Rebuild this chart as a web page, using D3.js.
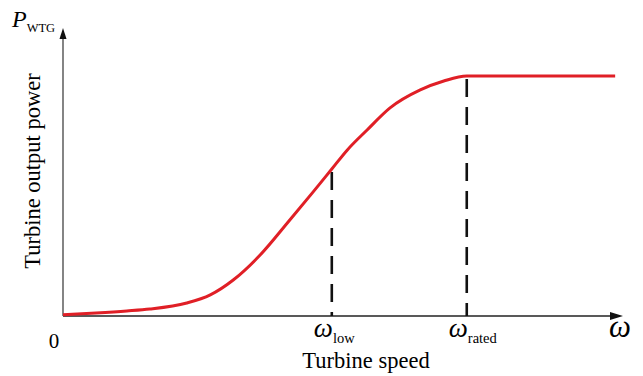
<!DOCTYPE html>
<html>
<head>
<meta charset="utf-8">
<script src="https://cdn.jsdelivr.net/npm/d3@7"></script>
<style>
    body { margin: 0; background: #fff; }
    text { font-family: "Liberation Serif", "Times New Roman", serif; fill: #000; }
</style>
</head>
<body>
<svg id="chart"></svg>
<script>
const width = 643
const height = 376

// turbine speed (arbitrary units) vs. output power (per unit of rated)
const speed = [0, 0.59, 1.14, 1.55, 2.21, 2.63, 3.04, 3.52, 4.05, 4.46, 4.8, 5.07, 5.43, 5.84, 6.38, 6.8, 7.21, 9.86]
const power = [0.005, 0.0125, 0.021, 0.029, 0.054, 0.088, 0.15, 0.254, 0.4, 0.515, 0.6125, 0.69, 0.775, 0.867, 0.942, 0.979, 1, 1]

const markerNames = ["low", "rated"]
const markerSpeeds = [4.8, 7.21]

const svg = d3.select("#chart").attr("width", width).attr("height", height)

const x = d3.scaleLinear().domain([0, 10]).range([63, 623])
const y = d3.scaleLinear().domain([0, 1.2]).range([316, 28])

const curvePoints = speed.map((s, i) => ({ s, p: power[i] }))
const powerAt = (s) => {
    const i = speed.indexOf(s)
    return i >= 0 ? power[i] : 1
}

// axes with arrow heads
const axisLine = (x0, y0, x1, y1, color) => {
    svg.append("line")
        .attr("x1", x0).attr("y1", y0)
        .attr("x2", x1).attr("y2", y1)
        .attr("stroke", color)
        .attr("stroke-width", 1.6)
}

axisLine(x(0), y(0), x(0), y(1.2) + 8, "#666")
axisLine(x(0), y(0), x(10) - 10, y(0), "#222")

svg.append("path")
    .attr("d", `M${x(0)},${y(1.2)} l-3.5,11 h7 z`)
    .attr("fill", "#111")
svg.append("path")
    .attr("d", `M${x(10)},${y(0)} l-13,-4 v8 z`)
    .attr("fill", "#111")

// dashed markers
svg.append("g")
    .selectAll("line")
    .data(markerSpeeds)
    .join("line")
    .attr("x1", (d) => x(d))
    .attr("x2", (d) => x(d))
    .attr("y1", (d) => y(powerAt(d)) + 3)
    .attr("y2", y(0))
    .attr("stroke", "#111")
    .attr("stroke-width", 2.6)
    .attr("stroke-dasharray", "18,10")

// power curve
const line = d3.line()
    .x((d) => x(d.s))
    .y((d) => y(d.p))
    .curve(d3.curveMonotoneX)

svg.append("path")
    .datum(curvePoints)
    .attr("d", line)
    .attr("fill", "none")
    .attr("stroke", "#e01f26")
    .attr("stroke-width", 3)

// labels
const omegaLabel = (xc, sub) => {
    const t = svg.append("text")
        .attr("x", xc)
        .attr("y", 337)
    t.append("tspan")
        .attr("font-style", "italic")
        .attr("font-size", 27)
        .text("\u03c9")
    t.append("tspan")
        .attr("font-size", 14.5)
        .attr("dy", 6)
        .text(sub)
}

markerSpeeds.forEach((s, i) => omegaLabel(x(s) - 18, markerNames[i]))

svg.append("text")
    .attr("x", 609)
    .attr("y", 337)
    .attr("font-style", "italic")
    .attr("font-size", 31)
    .text("\u03c9")

svg.append("text")
    .attr("x", 54)
    .attr("y", 348)
    .attr("text-anchor", "middle")
    .attr("font-size", 21)
    .text("0")

svg.append("text")
    .attr("x", 366)
    .attr("y", 368)
    .attr("text-anchor", "middle")
    .attr("font-size", 22.5)
    .text("Turbine speed")

svg.append("text")
    .attr("transform", "translate(40,171) rotate(-90)")
    .attr("text-anchor", "middle")
    .attr("font-size", 22.5)
    .text("Turbine output power")

const pLabel = svg.append("text").attr("x", 12).attr("y", 27)
pLabel.append("tspan")
    .attr("font-style", "italic")
    .attr("font-size", 24)
    .text("P")
pLabel.append("tspan")
    .attr("font-size", 12.5)
    .attr("dy", 5)
    .text("WTG")
</script>
</body>
</html>
